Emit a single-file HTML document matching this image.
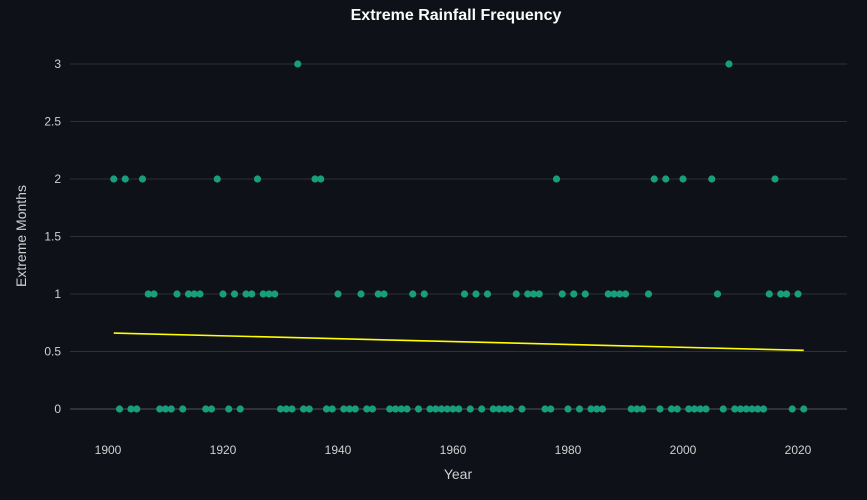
<!DOCTYPE html>
<html><head><meta charset="utf-8"><style>
html,body{margin:0;padding:0;background:#0e1117;}
svg{display:block;font-family:"Liberation Sans",Arial,sans-serif;}
</style></head><body>
<svg id="chart" width="867" height="500">
<rect width="867" height="500" fill="#0e1117"/>
<text x="456" y="20" text-anchor="middle" fill="#fafafa" font-size="16" font-weight="bold">Extreme Rainfall Frequency</text>
<text x="458" y="479" text-anchor="middle" fill="#d0d0d0" font-size="14">Year</text>
<text transform="translate(26,236) rotate(-90)" text-anchor="middle" fill="#d0d0d0" font-size="14">Extreme Months</text>
<g id="grid"></g><g id="ticks"></g><g id="trend"></g><g id="points"></g>
</svg>
<script>
const yTicks=[0,0.5,1,1.5,2,2.5,3];
const xTicks=[1900,1920,1940,1960,1980,2000,2020];
const years0=[1902,1904,1905,1909,1910,1911,1913,1917,1918,1921,1923,1930,1931,1932,1934,1935,1938,1939,1941,1942,1943,1945,1946,1949,1950,1951,1952,1954,1956,1957,1958,1959,1960,1961,1963,1965,1967,1968,1969,1970,1972,1976,1977,1980,1982,1984,1985,1986,1991,1992,1993,1996,1998,1999,2001,2002,2003,2004,2007,2009,2010,2011,2012,2013,2014,2019,2021];
const years1=[1907,1908,1912,1914,1915,1916,1920,1922,1924,1925,1927,1928,1929,1940,1944,1947,1948,1953,1955,1962,1964,1966,1971,1973,1974,1975,1979,1981,1983,1987,1988,1989,1990,1994,2006,2015,2017,2018,2020];
const years2=[1901,1903,1906,1919,1926,1936,1937,1978,1995,1997,2000,2005,2016];
const years3=[1933,2008];
const trendStart=[1901,0.66];
const trendEnd=[2021,0.51];
const NS='http://www.w3.org/2000/svg';
const xs=y=>108+(y-1900)*5.75;
const ys=v=>409-v*115;
function mk(tag,attrs,parent){const e=document.createElementNS(NS,tag);for(const k in attrs)e.setAttribute(k,attrs[k]);document.getElementById(parent).appendChild(e);return e;}
yTicks.forEach(v=>{
  const l=mk('line',{x1:70,x2:847,y1:ys(v),y2:ys(v),stroke:v===0?'#50545c':'#2c3038','stroke-width':1},'grid');
  
  
  const t=mk('text',{x:61,y:ys(v)+4,'text-anchor':'end',fill:'#d0d0d0','font-size':12},'ticks');
  t.textContent=String(v);
  
  
});
xTicks.forEach(v=>{
  const t=mk('text',{x:xs(v),y:454,'text-anchor':'middle',fill:'#d0d0d0','font-size':12},'ticks');
  t.textContent=String(v);
  
  
});
const tl=mk('line',{x1:xs(trendStart[0]),y1:ys(trendStart[1]),x2:xs(trendEnd[0]),y2:ys(trendEnd[1]),stroke:'#ffff00','stroke-width':1.6},'trend');


[[years0,0],[years1,1],[years2,2],[years3,3]].forEach(([arr,v])=>{
  arr.forEach(yr=>{
    const c=mk('circle',{cx:xs(yr),cy:ys(v),r:3.6,fill:'#199e7d'},'points');
    
    
  });
});
</script>
</body></html>
